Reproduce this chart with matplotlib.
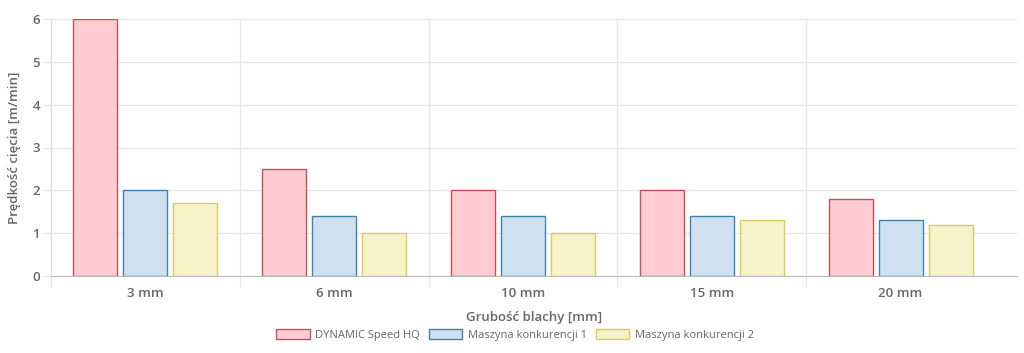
import numpy as np
import matplotlib.pyplot as plt
from matplotlib.patches import Patch

categories = ['3 mm', '6 mm', '10 mm', '15 mm', '20 mm']
dynamic = [6.0, 2.5, 2.0, 2.0, 1.8]
konk1 = [2.0, 1.4, 1.4, 1.4, 1.3]
konk2 = [1.7, 1.0, 1.0, 1.3, 1.2]
series_names = ['DYNAMIC Speed HQ', 'Maszyna konkurencji 1', 'Maszyna konkurencji 2']
y_ticks = [0, 1, 2, 3, 4, 5, 6]

fills = ['#ffccd1', '#cfe1ef', '#f7f2c9']
edges = ['#c4505a', '#3f84ad', '#d8cd5a']
text_col = '#666666'

plt.rcParams['font.family'] = ['Open Sans', 'DejaVu Sans']

fig = plt.figure(figsize=(10.24, 3.53), dpi=100)
W, H = 1024, 353
ax = fig.add_axes([51 / W, 1 - 276 / H, (1017 - 51) / W, (276 - 19) / H])

x = np.arange(len(categories))
bw = 44 / 189
step = 50 / 189
for i, vals in enumerate([dynamic, konk1, konk2]):
    ax.bar(x + (i - 1) * step, vals, width=bw, color=fills[i],
           edgecolor=edges[i], linewidth=1.0, zorder=3)

ax.set_xlim(-0.5, len(categories) - 0.5 + 22 / 189)
ax.set_ylim(0, 6)
ax.set_yticks(y_ticks)
ax.set_xticks(x)
ax.set_xticklabels(categories, fontsize=9.5, fontweight=600, color=text_col)
ax.set_yticklabels([str(v) for v in y_ticks], fontsize=9.5, fontweight=600, color=text_col)

# vertical grid lines between categories
ax.set_xticks(np.arange(len(categories)) - 0.5, minor=True)
ax.grid(False)
ax.yaxis.grid(True, color='#e6e6e6', linewidth=0.9, zorder=0)
ax.xaxis.grid(True, which='minor', color='#e6e6e6', linewidth=0.9, zorder=0)
ax.tick_params(axis='x', which='major', length=0, pad=8)
ax.tick_params(axis='x', which='minor', length=8, color='#e6e6e6', width=0.9)
ax.tick_params(axis='y', length=6, color='#e6e6e6', width=0.9, pad=2)

for s in ['top', 'right']:
    ax.spines[s].set_visible(False)
ax.spines['bottom'].set_color('#bbbbbb')
ax.spines['left'].set_color('#dddddd')

ax.set_xlabel('Grubość blachy [mm]', fontsize=9.5, fontweight=600,
              color=text_col, labelpad=8)
ax.set_ylabel('Prędkość cięcia [m/min]', fontsize=9.5, fontweight=600,
              color=text_col, labelpad=8)

handles = [Patch(facecolor=fills[i], edgecolor=edges[i], linewidth=1.0)
           for i in range(3)]
fig.legend(handles, series_names, loc='center', bbox_to_anchor=(515 / W, 1 - 335 / H),
           ncol=3, frameon=False, fontsize=8, labelcolor=text_col,
           handlelength=3.0, handleheight=0.9, handletextpad=0.5, columnspacing=0.8)

fig.savefig('out.png', dpi=100)
